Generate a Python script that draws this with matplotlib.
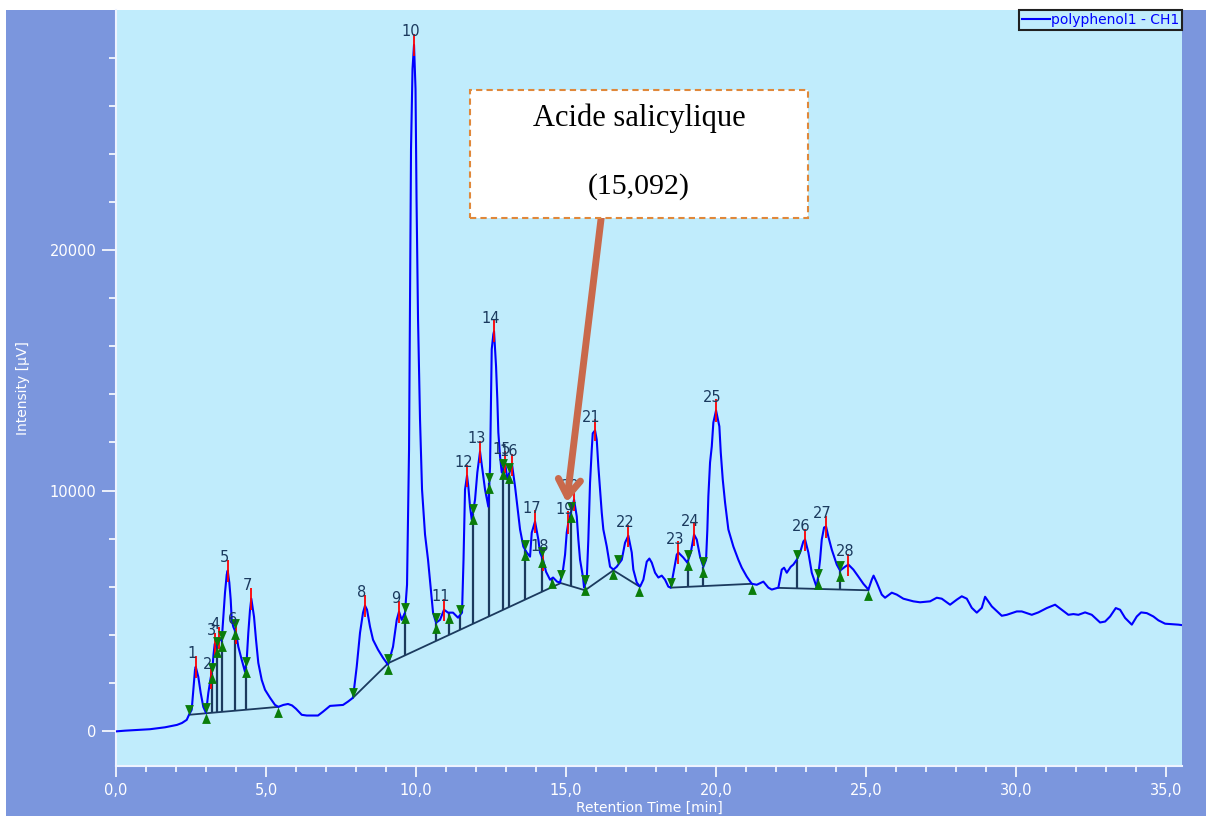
import numpy as np
import matplotlib
matplotlib.use('Agg')
import matplotlib.pyplot as plt
from matplotlib.patches import Rectangle
from matplotlib.ticker import MultipleLocator, FuncFormatter

# chromatogram trace, retention time (min) / detector signal (µV)
trace_t = [0.0, 0.30, 1.133, 1.633, 2.033, 2.20, 2.357, 2.433, 2.523, 2.577,
           2.633, 2.657, 2.743, 2.823, 2.91, 3.0, 3.077, 3.157, 3.21, 3.25,
           3.29, 3.357, 3.423, 3.523, 3.577, 3.633, 3.69, 3.723, 3.777, 3.823,
           3.857, 3.91, 4.0, 4.077, 4.19, 4.30, 4.357, 4.41, 4.467, 4.51,
           4.60, 4.667, 4.743, 4.857, 4.967, 5.133, 5.30, 5.41, 5.577, 5.733,
           5.867, 6.0, 6.19, 6.357, 6.733, 6.90, 7.133, 7.567, 7.733, 7.90,
           8.023, 8.133, 8.233, 8.30, 8.367, 8.467, 8.567, 8.733, 8.90, 9.067,
           9.233, 9.357, 9.433, 9.523, 9.633, 9.70, 9.767, 9.80, 9.833, 9.883,
           9.933, 9.983, 10.017, 10.067, 10.133, 10.20, 10.30, 10.40, 10.567, 10.667,
           10.80, 10.933, 11.067, 11.233, 11.40, 11.533, 11.583, 11.633, 11.70, 11.743,
           11.80, 11.857, 11.967, 12.043, 12.133, 12.223, 12.30, 12.41, 12.467, 12.50,
           12.523, 12.577, 12.60, 12.667, 12.71, 12.743, 12.80, 12.857, 12.967, 13.043,
           13.20, 13.30, 13.377, 13.467, 13.577, 13.69, 13.80, 13.857, 13.967, 14.077,
           14.133, 14.233, 14.333, 14.467, 14.567, 14.70, 14.80, 14.90, 14.967, 15.023,
           15.077, 15.133, 15.20, 15.267, 15.357, 15.41, 15.467, 15.523, 15.567, 15.60,
           15.69, 15.743, 15.80, 15.857, 15.89, 15.967, 16.023, 16.077, 16.133, 16.19,
           16.243, 16.357, 16.467, 16.577, 16.69, 16.857, 16.967, 17.077, 17.19, 17.243,
           17.357, 17.467, 17.577, 17.69, 17.777, 17.857, 17.967, 18.077, 18.19, 18.30,
           18.41, 18.49, 18.60, 18.69, 18.743, 18.91, 19.043, 19.157, 19.267, 19.357,
           19.467, 19.577, 19.667, 19.71, 19.743, 19.80, 19.857, 19.91, 20.0, 20.11,
           20.157, 20.223, 20.30, 20.41, 20.577, 20.743, 20.857, 21.023, 21.19, 21.357,
           21.577, 21.743, 21.857, 22.077, 22.19, 22.267, 22.357, 22.49, 22.577, 22.69,
           22.80, 22.91, 22.967, 23.077, 23.19, 23.357, 23.467, 23.523, 23.60, 23.667,
           23.743, 23.857, 24.023, 24.133, 24.30, 24.41, 24.577, 24.743, 24.91, 25.077,
           25.19, 25.25, 25.357, 25.523, 25.633, 25.857, 26.023, 26.243, 26.577, 26.80,
           27.133, 27.357, 27.523, 27.80, 28.023, 28.19, 28.357, 28.523, 28.69, 28.857,
           28.967, 29.19, 29.523, 29.69, 30.023, 30.19, 30.523, 30.743, 31.023, 31.30,
           31.523, 31.743, 31.91, 32.077, 32.30, 32.523, 32.80, 32.967, 33.133, 33.323,
           33.467, 33.633, 33.857, 34.023, 34.167, 34.357, 34.577, 34.743, 34.967, 35.41,
           35.533]
trace_i = [-20, 10, 70, 150, 250, 330, 460, 670, 880, 1710,
           2540, 2670, 2250, 1580, 1000, 750, 1580, 2210, 2540, 3170,
           3620, 3500, 3880, 3750, 4750, 5750, 6500, 6670, 6170, 5460,
           4620, 4330, 4080, 3500, 2960, 2460, 2960, 4080, 5040, 5500,
           4750, 3790, 2830, 2120, 1710, 1380, 1080, 1000, 1080, 1120,
           1060, 920, 670, 640, 640, 800, 1040, 1080, 1220, 1380,
           2670, 4080, 4920, 5210, 5040, 4330, 3790, 3380, 3040, 2750,
           3500, 4620, 4960, 4620, 4920, 6080, 11710, 17960, 24210, 27540,
           28540, 26710, 22120, 17120, 12960, 10040, 8170, 7120, 4920, 4500,
           4620, 5040, 4920, 4920, 4710, 4920, 7120, 10040, 10620, 10170,
           9330, 8790, 9620, 10750, 11620, 10750, 10040, 9330, 11000, 13790,
           15880, 16500, 16620, 15170, 13790, 12420, 11420, 10750, 11170, 10460,
           11080, 10170, 9330, 8380, 7670, 7420, 7250, 8250, 8710, 7960,
           7420, 7120, 6620, 6290, 6380, 6210, 6170, 6710, 7330, 8250,
           8670, 8920, 9290, 9620, 8920, 7960, 7120, 6710, 6380, 5960,
           6290, 7960, 10330, 11710, 12380, 12500, 12120, 11000, 10040, 9080,
           8380, 7670, 6830, 6710, 6830, 7120, 7830, 8120, 7420, 6710,
           6170, 6000, 6290, 7040, 7170, 7000, 6580, 6380, 6460, 6290,
           6000, 5960, 6710, 7330, 7420, 7210, 7000, 7420, 8170, 7960,
           7250, 6830, 7120, 8380, 9750, 11170, 11830, 12830, 13330, 12670,
           11580, 10460, 9500, 8380, 7670, 7120, 6790, 6420, 6120, 6080,
           6210, 5960, 5880, 5960, 6710, 6790, 6580, 6830, 6920, 7120,
           7420, 7880, 7960, 7420, 6580, 5960, 7120, 7960, 8460, 8500,
           8080, 7540, 6920, 6670, 6830, 6920, 6710, 6420, 6120, 5880,
           6290, 6460, 6170, 5670, 5540, 5750, 5670, 5500, 5390, 5350,
           5390, 5540, 5500, 5250, 5460, 5600, 5500, 5120, 4920, 5120,
           5580, 5180, 4790, 4830, 4970, 4970, 4830, 4930, 5110, 5250,
           5040, 4830, 4860, 4830, 4930, 4830, 4510, 4550, 4760, 5110,
           5040, 4700, 4420, 4760, 4930, 4900, 4760, 4600, 4460, 4420,
           4400]

# integrated peaks
peak_no = list(range(1, 29))
peak_t = [2.657, 3.157, 3.29, 3.423, 3.723, 4.0, 4.51, 8.30, 9.433, 9.933,
          10.933, 11.70, 12.133, 12.60, 12.967, 13.20, 13.967, 14.233, 15.077, 15.267,
          15.967, 17.077, 18.743, 19.267, 20.0, 22.967, 23.667, 24.41]

# baselines drawn under the peak groups
base1_t, base1_i = [2.433, 5.41], [670, 1000]
base2_t = [7.90, 9.077, 14.823, 15.633, 16.577, 17.443]
base2_i = [1380, 2820, 6150, 5850, 6680, 6010]
base3_t, base3_i = [18.49, 21.19], [5960, 6120]
base4_t, base4_i = [22.077, 25.077], [5950, 5850]
baselines = [(base1_t, base1_i), (base2_t, base2_i), (base3_t, base3_i), (base4_t, base4_i)]

# peak start / end marks and drop lines
start_t = [2.433, 3.0, 3.19, 3.357, 3.523, 3.95, 4.323, 7.90, 9.077, 9.633,
           10.667, 11.467, 11.89, 12.443, 12.89, 13.11, 13.633, 14.19, 14.823, 15.167,
           15.633, 16.743, 18.49, 19.077, 19.577, 22.69, 23.39, 24.133]
end_t = [3.0, 3.19, 3.357, 3.523, 3.95, 4.323, 5.41, 9.077, 9.633, 10.667,
         11.11, 11.89, 12.443, 12.89, 13.11, 13.633, 14.19, 14.523, 15.167, 15.633,
         16.557, 17.443, 19.077, 19.577, 21.19, 23.39, 24.133, 25.077]
drop_t = [3.0, 3.19, 3.357, 3.523, 3.95, 4.323, 9.633, 10.667, 11.11, 11.467,
          11.89, 12.443, 12.89, 13.11, 13.633, 14.19, 14.523, 15.167, 19.077, 19.577,
          22.69, 23.39, 24.133]

frame_blue = '#7b96dd'
plot_bg = '#c0ecfc'
navy = '#1b3a5e'
green = '#0a7d0a'

fig = plt.figure(figsize=(12.06, 8.16), dpi=100, facecolor='white')
fig.patches.append(Rectangle((6 / 1206, 0), 1, 1 - 10 / 816, transform=fig.transFigure,
                             facecolor=frame_blue, edgecolor='none', zorder=-10))
ax = fig.add_axes([116 / 1206, 50 / 816, 1066 / 1206, 756 / 816])
ax.set_facecolor(plot_bg)

ax.plot(trace_t, trace_i, color='#0000ff', lw=1.5, label='polyphenol1 - CH1', zorder=3)

all_bt = np.concatenate([b[0] for b in baselines])
all_bi = np.concatenate([b[1] for b in baselines])
for bt, bi in baselines:
    ax.plot(bt, bi, color=navy, lw=1.3, zorder=2)
ax.vlines(drop_t, np.interp(drop_t, all_bt, all_bi), np.interp(drop_t, trace_t, trace_i),
          color=navy, lw=1.6, zorder=2)

tri_down = [(-0.42, 1), (0.42, 1), (0, 0)]
tri_up = [(-0.42, -1), (0.42, -1), (0, 0)]
ax.plot(start_t, np.interp(start_t, trace_t, trace_i), ls='none', marker=tri_down,
        ms=15, color=green, mew=0, zorder=5)
ax.plot(end_t, np.interp(end_t, trace_t, trace_i), ls='none', marker=tri_up,
        ms=15, color=green, mew=0, zorder=5)

apex = np.interp(peak_t, trace_t, trace_i)
ax.vlines(peak_t, apex - 460, apex + 460, color='red', lw=1.3, zorder=4)
for n, t, a in zip(peak_no, peak_t, apex):
    ax.annotate(str(n), (t, a), xytext=(-2.5, 4), textcoords='offset points',
                ha='center', va='bottom', color=navy, fontsize=10.5, zorder=6)

# callout for salicylic acid
ax.annotate('', xy=(15.02, 9500), xytext=(16.17, 21330),
            arrowprops=dict(arrowstyle='->,head_length=0.6,head_width=0.4', color='#c9694b',
                            lw=5, mutation_scale=20, shrinkA=0, shrinkB=0), zorder=6)
ax.add_patch(Rectangle((0.332, 0.725), 0.317, 0.169, transform=ax.transAxes,
                       facecolor='white', edgecolor='#e0883a', ls=(0, (3, 2)), lw=1.5, zorder=7))
ax.text(0.4906, 0.857, 'Acide salicylique', transform=ax.transAxes, ha='center', va='center',
        family='Liberation Serif', fontsize=22, color='black', zorder=8)
ax.text(0.4906, 0.767, '(15,092)', transform=ax.transAxes, ha='center', va='center',
        family='Liberation Serif', fontsize=21.5, color='black', zorder=8)

leg = ax.legend(loc='upper right', borderaxespad=0, fancybox=False, edgecolor='#202020',
                facecolor=plot_bg, framealpha=1, labelcolor='#0000ff', fontsize=10,
                handlelength=2.0, handletextpad=0.1, borderpad=0.2)
leg.get_frame().set_linewidth(1.5)

ax.set_xlim(0, 35.53)
ax.set_ylim(-1460, 29990)
ax.xaxis.set_major_locator(MultipleLocator(5))
ax.xaxis.set_minor_locator(MultipleLocator(1))
ax.yaxis.set_major_locator(MultipleLocator(10000))
ax.yaxis.set_minor_locator(MultipleLocator(2000))
ax.xaxis.set_major_formatter(FuncFormatter(lambda v, p: f'{v:.1f}'.replace('.', ',')))
ax.yaxis.set_major_formatter(FuncFormatter(lambda v, p: f'{v:.0f}'))

for s in ['top', 'right']:
    ax.spines[s].set_visible(False)
for s in ['left', 'bottom']:
    ax.spines[s].set_color('#eef3ff')
    ax.spines[s].set_linewidth(1.5)

ax.tick_params(axis='x', which='major', direction='out', length=8, width=1.2,
               color='white', labelcolor='white', labelsize=10.5, pad=4)
ax.tick_params(axis='x', which='minor', direction='out', length=4, width=1.2, color='white')
ax.tick_params(axis='y', which='major', direction='out', length=10, width=1.2,
               color='white', labelcolor='white', labelsize=10.5, pad=4)
ax.tick_params(axis='y', which='minor', direction='out', length=5, width=1.2, color='white')

ax.set_xlabel('Retention Time [min]', color='white', fontsize=10, labelpad=2)
ax.set_ylabel('Intensity [µV]', color='white', fontsize=10, labelpad=14)

fig.savefig('out.png', dpi=100, facecolor=fig.get_facecolor())
